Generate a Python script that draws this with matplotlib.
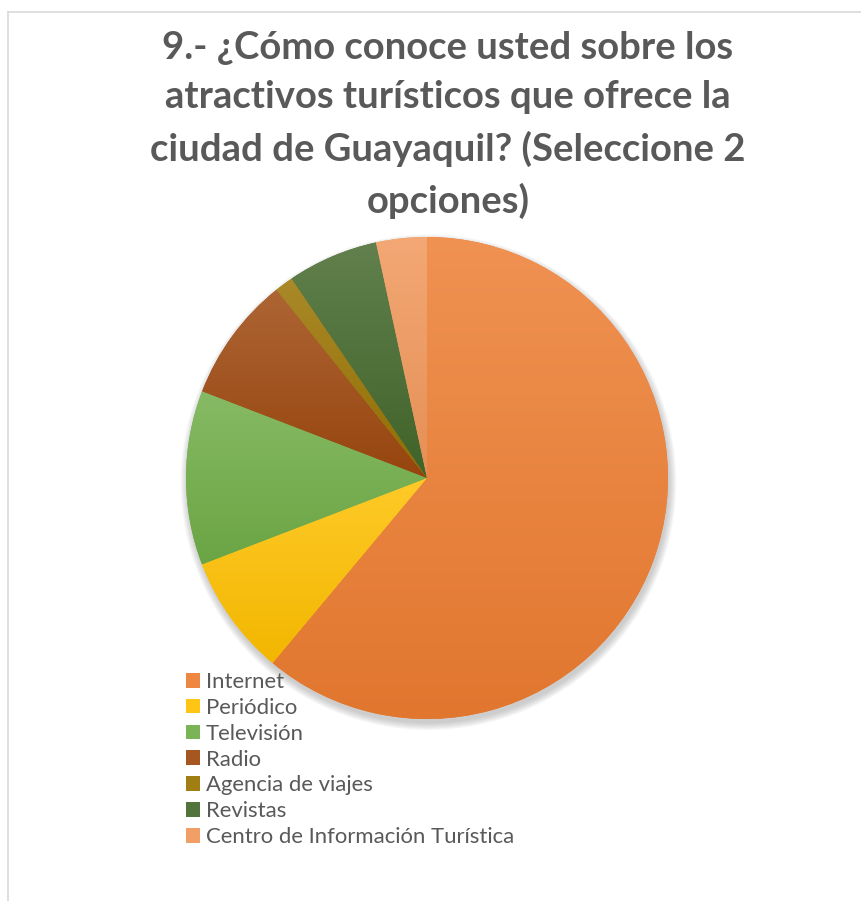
import numpy as np
import matplotlib.pyplot as plt
from matplotlib.colors import to_rgb
from matplotlib.lines import Line2D
from matplotlib.patches import Circle, Patch

# datos de la encuesta (porcentajes estimados)
categorias = ['Internet', 'Periódico', 'Televisión', 'Radio',
              'Agencia de viajes', 'Revistas', 'Centro de Información Turística']
valores = [61.1, 8.1, 11.7, 8.4, 1.25, 6.1, 3.4]
colores = ['#ED7D31', '#FFC000', '#70AD47', '#9E480E',
           '#997300', '#43682B', '#F1975A']

titulo = ('9.- ¿Cómo conoce usted sobre los\n'
          'atractivos turísticos que ofrece la\n'
          'ciudad de Guayaquil? (Seleccione 2\n'
          'opciones)')

W, H = 861, 901
fig = plt.figure(figsize=(W / 100, H / 100), dpi=100)
fig.patch.set_facecolor('white')

# marco del gráfico (cortado a la derecha y abajo)
fig.add_artist(Line2D([8 / W, 8 / W], [0, 1 - 12 / H], color='#D9D9D9', lw=1.2))
fig.add_artist(Line2D([8 / W, 1], [1 - 12 / H, 1 - 12 / H], color='#D9D9D9', lw=1.2))

fig.text(448 / W, 1 - 31 / H, titulo, ha='center', va='top',
         fontsize=27.5, fontweight='bold', color='#595959',
         family='Lato', linespacing=1.54)

# ejes del pastel
cx, cy, r = 427, 478, 241
ax = fig.add_axes([(cx - r) / W, (H - cy - r) / H, 2 * r / W, 2 * r / H])
ax.set_xlim(-1, 1)
ax.set_ylim(-1, 1)
ax.set_aspect('equal')
ax.axis('off')

# sombra suave
for k in range(8):
    ax.add_patch(Circle((0.006, -0.018), 1.0 + 0.004 * k, color='#7f7f7f',
                        alpha=0.055, lw=0, zorder=0, clip_on=False))

wedges, _ = ax.pie(valores, colors=colores, startangle=90, counterclock=False,
                   radius=1, wedgeprops=dict(linewidth=0))


def mezcla(c, otro, f):
    c = np.array(to_rgb(c))
    return c * (1 - f) + np.array(otro) * f


# degradado vertical dentro de cada porción
for w, c in zip(wedges, colores):
    ext = w.get_path().get_extents()
    arriba = mezcla(c, (1, 1, 1), 0.16)
    abajo = mezcla(c, (0, 0, 0), 0.05)
    t = np.linspace(0, 1, 256)[:, None]
    img = arriba[None, :] * (1 - t) + abajo[None, :] * t
    img = np.repeat(img[:, None, :], 2, axis=1)
    im = ax.imshow(img, extent=(ext.x0, ext.x1, ext.y0, ext.y1), origin='upper',
                   aspect='auto', zorder=2, interpolation='bilinear')
    im.set_clip_path(w)
    w.set_zorder(1)

ax.set_xlim(-1, 1)
ax.set_ylim(-1, 1)

handles = [Patch(facecolor=mezcla(c, (1, 1, 1), 0.08), edgecolor='none') for c in colores]
leg = fig.legend(handles, categorias, loc='upper left',
                 bbox_to_anchor=(186 / W, 1 - 672 / H), frameon=False,
                 prop=dict(family='Lato', size=15.9), labelcolor='#595959',
                 handlelength=0.64, handleheight=0.64, handletextpad=0.27,
                 labelspacing=0.265, borderpad=0, borderaxespad=0)

fig.savefig('out.png', dpi=100)
